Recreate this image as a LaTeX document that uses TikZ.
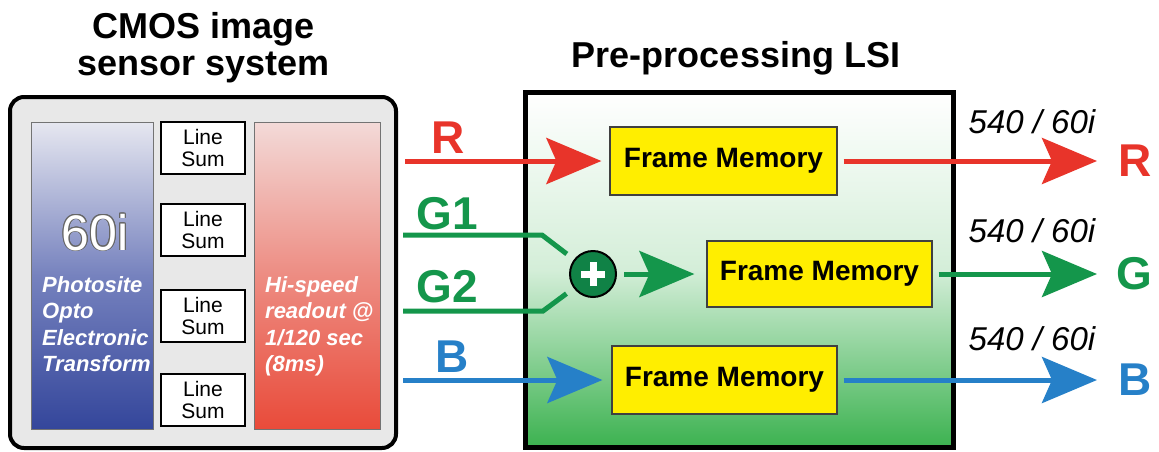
\documentclass[tikz,border=0pt]{standalone}
\usepackage{fontspec}
\setmainfont{Liberation Sans}
\usepackage{contour}
\contourlength{0.9pt}
\usetikzlibrary{arrows.meta,positioning}

\definecolor{sigred}{RGB}{232,52,42}
\definecolor{siggreen}{RGB}{20,150,75}
\definecolor{sigblue}{RGB}{38,128,200}
\definecolor{bluetop}{RGB}{230,231,240}
\definecolor{bluemid}{RGB}{118,130,190}
\definecolor{panelblue}{RGB}{52,70,155}
\definecolor{redtop}{RGB}{243,218,216}
\definecolor{redmid}{RGB}{237,140,130}
\definecolor{panelred}{RGB}{233,75,58}
\definecolor{lsigreen}{RGB}{60,178,80}
\definecolor{memyellow}{RGB}{255,238,0}
\definecolor{sumgreen}{RGB}{16,130,70}

\tikzset{
  heading/.style={font=\bfseries\fontsize{36}{37}\selectfont, align=center, inner sep=0pt},
  panel/.style={draw=black!55, line width=1pt, minimum height=307pt, inner sep=0pt},
  paneltext/.style={text=white, font=\bfseries\itshape\fontsize{22}{26.5}\selectfont, align=left, inner sep=0pt, anchor=north west},
  linesum/.style={draw, fill=white, line width=1.2pt, minimum width=84pt, minimum height=52pt, inner sep=0pt, align=center, font=\fontsize{21}{22}\selectfont},
  framemem/.style={draw=black!75, fill=memyellow, line width=1.2pt, minimum height=68pt, inner sep=0pt, font=\bfseries\fontsize{28}{28}\selectfont},
  chan/.style={font=\bfseries\fontsize{46}{46}\selectfont, inner sep=0pt},
  rate/.style={font=\itshape\fontsize{33}{33}\selectfont, inner sep=0pt, anchor=base},
  sig/.style={line width=5pt, -{Stealth[length=55pt, width=46pt, inset=10pt]}},
  wire/.style={line width=5pt},
}

\begin{document}
\begin{tikzpicture}[x=1pt, y=-1pt]
\useasboundingbox (0,0) rectangle (1159,451);

% titles
\node[heading] (cmostitle) at (204,48) {CMOS image\\sensor system};
\node[heading, anchor=base] (lsititle) at (736,67) {Pre-processing LSI};

% CMOS sensor system
\draw[rounded corners=14pt, line width=4pt, fill=black!9] (10,97) rectangle (396,448);
\node[panel, minimum width=122pt, top color=bluetop, bottom color=panelblue, middle color=bluemid] (photo) at (92,275.5) {};
\node[text=white, font=\fontsize{50}{50}\selectfont, inner sep=0pt, anchor=base] (sixty) at (95,250) {\contour{black!60}{60i}};
\node[paneltext] (phototext) at (42,276) {Photosite\\Opto\\Electronic\\Transform};
\foreach \y/\n in {148/1, 230/2, 316/3, 400/4}
  \node[linesum] (linesum\n) at (203,\y) {Line\\Sum};
\node[panel, minimum width=126pt, top color=redtop, bottom color=panelred, middle color=redmid] (readout) at (317,275.5) {};
\node[paneltext] (readouttext) at (265,276) {Hi-speed\\readout @\\1/120 sec\\(8ms)};

% pre-processing LSI
\draw[line width=5pt, top color=white, bottom color=lsigreen, middle color=lsigreen!22] (525,92) rectangle (953,447);
\node[framemem, minimum width=227pt] (fmr) at (723.5,161) {Frame Memory};
\node[framemem, minimum width=225pt, minimum height=66pt] (fmg) at (819.5,274) {Frame Memory};
\node[framemem, minimum width=225pt] (fmb) at (724.5,380) {Frame Memory};
\node[circle, draw, line width=2pt, fill=sumgreen, minimum size=46pt, inner sep=0pt] (adder) at (593,274) {};
\draw[white, line width=7pt] ([xshift=-12pt]adder.center) -- ([xshift=12pt]adder.center)
  ([yshift=-12pt]adder.center) -- ([yshift=12pt]adder.center);

% inputs
\coordinate (rin) at (405,161);
\coordinate (g1in) at (403,235);
\coordinate (g1bend) at (542,235);
\coordinate (g2in) at (403,311);
\coordinate (g2bend) at (543,311);
\coordinate (bin) at (403,380);
\draw[sig, sigred, shorten >=8pt] (rin) -- (fmr);
\draw[wire, siggreen, shorten >=9pt] (g1in) -- (g1bend) -- (adder);
\draw[wire, siggreen, shorten >=9pt] (g2in) -- (g2bend) -- (adder);
\draw[sig, siggreen, shorten <=7pt, shorten >=12pt] (adder) -- (fmg);
\draw[sig, sigblue, shorten >=9pt] (bin) -- (fmb);
\node[chan, text=sigred] (rinlabel) at (448,138) {R};
\node[chan, text=siggreen] (g1label) at (447,214) {G1};
\node[chan, text=siggreen] (g2label) at (447,287) {G2};
\node[chan, text=sigblue] (binlabel) at (452,357) {B};

% outputs
\coordinate (rout) at (1097,161);
\coordinate (gout) at (1097,274);
\coordinate (bout) at (1097,380);
\draw[sig, sigred, shorten <=6pt] (fmr) -- (rout);
\draw[sig, siggreen, shorten <=6pt] (fmg) -- (gout);
\draw[sig, sigblue, shorten <=6pt] (fmb) -- (bout);
\node[rate] (rrate) at (1032,133) {540 / 60i};
\node[rate] (grate) at (1032,242) {540 / 60i};
\node[rate] (brate) at (1032,350) {540 / 60i};
\node[chan, text=sigred] (routlabel) at (1135,161) {R};
\node[chan, text=siggreen] (goutlabel) at (1134,274) {G};
\node[chan, text=sigblue] (boutlabel) at (1135,380) {B};
\end{tikzpicture}
\end{document}
